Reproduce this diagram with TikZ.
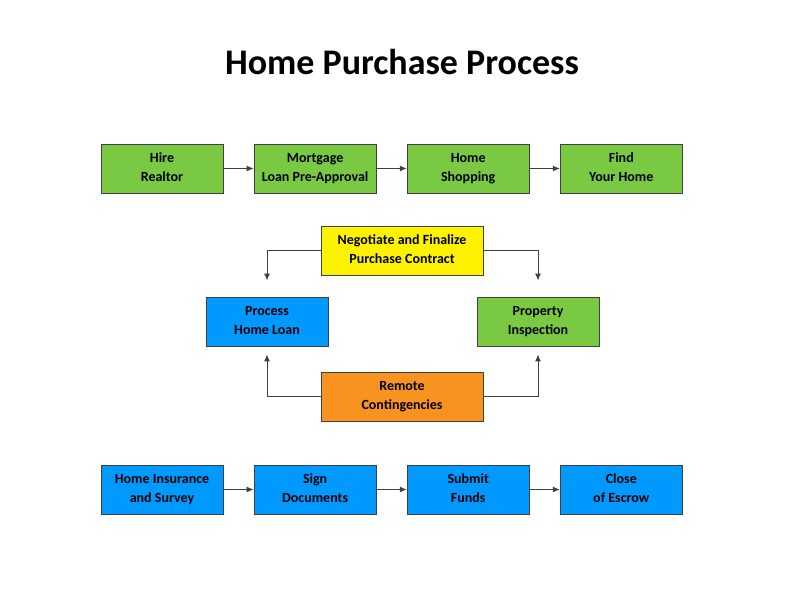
\documentclass[tikz,border=0pt]{standalone}
\usepackage{fontspec}
\setmainfont{Carlito}
\usetikzlibrary{arrows.meta, positioning}

\definecolor{boxgreen}{HTML}{7AC943}
\definecolor{boxblue}{HTML}{0099FF}
\definecolor{boxorange}{HTML}{F7931E}

\begin{document}
\begin{tikzpicture}[x=1pt, y=1pt, node distance=30.2pt,
    stepbox/.style={rectangle, draw=black!75, line width=0.9pt, minimum width=122pt, minimum height=49pt,
        align=center, inner sep=0pt, font=\bfseries\fontsize{14}{19}\selectfont,
        execute at begin node=\rule{0pt}{17pt}, execute at end node=\rule[-2pt]{0pt}{2pt}},
    link/.style={draw=black!75, line width=1pt, -{Latex[length=7pt, width=6pt]}}]
    \useasboundingbox (0,0) rectangle (800,600);

    \node [font=\bfseries\fontsize{36}{40}\selectfont] (title) at (402,538) {Home Purchase Process};

    % first row
    \node [stepbox, fill=boxgreen] (realtor) at (162,431.5) {Hire\\Realtor};
    \node [stepbox, fill=boxgreen, right=of realtor] (preapp) {Mortgage\\Loan Pre-Approval};
    \node [stepbox, fill=boxgreen, right=of preapp] (shop) {Home\\Shopping};
    \node [stepbox, fill=boxgreen, right=of shop] (find) {Find\\Your Home};

    % contract and contingencies
    \node [stepbox, fill=yellow, minimum width=162pt] (contract) at (402,349.5) {Negotiate and Finalize\\Purchase Contract};
    \node [stepbox, fill=boxblue] (loan) at (267,278.5) {Process\\Home Loan};
    \node [stepbox, fill=boxgreen] (inspect) at (538,278.5) {Property\\Inspection};
    \node [stepbox, fill=boxorange, minimum width=162pt] (remote) at (402,203.5) {Remote\\Contingencies};

    % last row
    \node [stepbox, fill=boxblue] (insure) at (162,110.5) {Home Insurance\\and Survey};
    \node [stepbox, fill=boxblue, right=of insure] (sign) {Sign\\Documents};
    \node [stepbox, fill=boxblue, right=of sign] (funds) {Submit\\Funds};
    \node [stepbox, fill=boxblue, right=of funds] (escrow) {Close\\of Escrow};

    \draw [link] (realtor) -- (preapp);
    \draw [link] (preapp) -- (shop);
    \draw [link] (shop) -- (find);

    \draw [link, shorten >=16pt] (contract.west) -| (loan.north);
    \draw [link, shorten >=16pt] (contract.east) -| (inspect.north);
    \draw [link, shorten >=8pt] (remote.west) -| (loan.south);
    \draw [link, shorten >=8pt] (remote.east) -| (inspect.south);

    \draw [link] (insure) -- (sign);
    \draw [link] (sign) -- (funds);
    \draw [link] (funds) -- (escrow);
\end{tikzpicture}
\end{document}
